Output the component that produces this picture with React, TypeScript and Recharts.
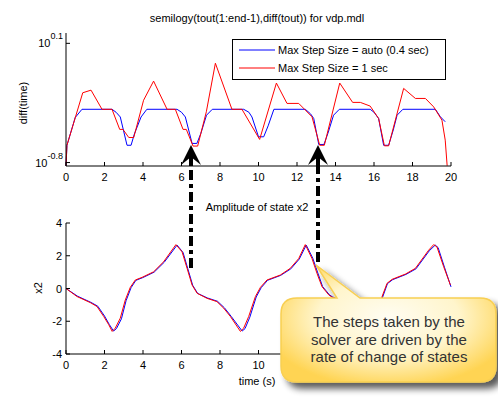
import { LineChart, Line, XAxis, YAxis } from "recharts";

// step sizes, semilogy plot (time, diff(time))
const autoStepTime = [0, 0.05, 0.48, 0.83, 2.39, 2.6, 2.82, 3.17, 3.38, 3.55, 3.9, 4.2, 5.77, 6.0, 6.2, 6.55, 6.8, 7.0, 7.3, 7.6, 9.23, 9.5, 9.66, 10.0, 10.27, 10.5, 10.8, 12.43, 12.7, 12.87, 13.13, 13.4, 13.6, 13.9, 14.2, 15.8, 16.0, 16.24, 16.5, 16.76, 17.0, 17.2, 17.5, 19.19, 19.45, 19.7];
const autoStepSize = [0.15, 0.214, 0.347, 0.4, 0.4, 0.38, 0.35, 0.214, 0.214, 0.26, 0.35, 0.4, 0.4, 0.38, 0.35, 0.221, 0.221, 0.262, 0.361, 0.4, 0.4, 0.38, 0.35, 0.248, 0.248, 0.3, 0.4, 0.4, 0.37, 0.341, 0.217, 0.217, 0.262, 0.361, 0.4, 0.4, 0.38, 0.341, 0.214, 0.214, 0.279, 0.361, 0.4, 0.4, 0.351, 0.322];

const oneSecTime = [0, 0.05, 0.87, 1.3, 1.87, 2.39, 2.79, 2.96, 3.26, 3.52, 4.03, 4.55, 5.25, 5.68, 6.08, 6.25, 6.6, 6.84, 7.29, 7.76, 8.62, 9.14, 10.06, 10.93, 11.48, 12.09, 12.78, 13.18, 13.42, 14.22, 14.89, 15.29, 15.8, 16.24, 16.54, 16.76, 17.54, 18.15, 18.67, 19.1, 19.53, 19.7, 19.8];
const oneSecSize = [0.15, 0.214, 0.533, 0.558, 0.4, 0.4, 0.282, 0.282, 0.245, 0.245, 0.468, 0.653, 0.4, 0.4, 0.282, 0.282, 0.211, 0.211, 0.383, 0.891, 0.4, 0.4, 0.237, 0.631, 0.443, 0.443, 0.351, 0.214, 0.214, 0.631, 0.451, 0.451, 0.423, 0.341, 0.212, 0.212, 0.575, 0.483, 0.483, 0.417, 0.331, 0.234, 0.15];

// state x2
const x2AutoTime = [0, 0.6, 1.3, 1.65, 2.0, 2.25, 2.47, 2.62, 2.88, 3.12, 3.38, 3.63, 3.98, 4.58, 5.1, 5.77, 6.08, 6.33, 6.58, 6.84, 7.35, 7.87, 8.23, 8.58, 9.15, 9.3, 9.55, 9.88, 10.14, 10.47, 11.15, 11.68, 12.12, 12.48, 12.82, 13.08, 13.33, 13.68, 13.85, 14.42, 14.93, 15.3, 15.77, 15.96, 16.2, 16.45, 16.7, 16.97, 17.66, 18.18, 18.87, 19.18, 19.33, 19.66, 20];
const x2AutoVal = [0, -0.47, -0.85, -1.08, -1.68, -2.2, -2.6, -2.45, -1.85, -0.75, 0.05, 0.5, 0.66, 1.0, 1.6, 2.65, 2.2, 1.2, 0.2, -0.3, -0.58, -0.78, -1.18, -1.7, -2.6, -2.45, -1.75, -0.52, 0.05, 0.5, 0.8, 1.2, 1.8, 2.65, 1.85, 0.95, 0.12, -0.38, -0.52, -0.78, -1.18, -1.7, -2.6, -2.45, -1.75, -0.52, 0.3, 0.54, 0.86, 1.2, 2.3, 2.65, 2.5, 1.3, 0.1];

const x2OneTime = [0, 0.57, 1.26, 1.61, 1.96, 2.22, 2.4, 2.56, 2.82, 3.08, 3.34, 3.6, 3.95, 4.55, 5.07, 5.71, 6.03, 6.29, 6.55, 6.81, 7.32, 7.84, 8.19, 8.54, 9.06, 9.23, 9.49, 9.84, 10.1, 10.44, 11.13, 11.65, 12.09, 12.43, 12.78, 13.04, 13.3, 13.65, 13.82, 14.4, 14.9, 15.25, 15.7, 15.9, 16.15, 16.42, 16.68, 16.94, 17.63, 18.15, 18.84, 19.1, 19.27, 19.62, 19.97];
const x2OneVal = [0, -0.49, -0.86, -1.1, -1.71, -2.21, -2.62, -2.42, -1.81, -0.7, 0.07, 0.52, 0.68, 1.02, 1.63, 2.68, 2.24, 1.23, 0.21, -0.29, -0.6, -0.8, -1.2, -1.71, -2.62, -2.42, -1.71, -0.49, 0.07, 0.52, 0.82, 1.23, 1.83, 2.68, 1.83, 0.92, 0.11, -0.39, -0.53, -0.8, -1.2, -1.71, -2.62, -2.42, -1.71, -0.49, 0.32, 0.56, 0.88, 1.23, 2.34, 2.68, 2.54, 1.33, 0.21];

const timeTicks = [0, 2, 4, 6, 8, 10, 12, 14, 16, 18, 20];
const logTicks = [Math.pow(10, -0.8), Math.pow(10, 0.1)];
const logTickExp = ["-0.8", "0.1"];
const x2Ticks = [-4, -2, 0, 2, 4];

const legendNames = ["Max Step Size = auto (0.4 sec)", "Max Step Size = 1 sec"];
const calloutLines = ["The steps taken by the", "solver are driven by the", "rate of change of states"];

const FONT = "'Liberation Sans', Arial, sans-serif";
const BLUE = "#0000ff";
const RED = "#ff0000";
const BUBBLE_LEFT = 281;

const zip = (t: number[], v: number[]) => t.map((x, i) => ({ t: x, v: v[i] }));

// labels that the callout hides are left out
const makeBottomTick = (maxX: number) => (p: any) => (
  <g>
    <line x1={p.x} x2={p.x} y1={p.y} y2={p.y - 4} stroke="#000" />
    {p.x < maxX && (
      <text x={p.x} y={p.y + 15} textAnchor="middle" fontSize={11} fontFamily={FONT} fill="#000">
        {p.payload.value}
      </text>
    )}
  </g>
);

const TopTick = (p: any) => <line x1={p.x} x2={p.x} y1={p.y} y2={p.y + 4} stroke="#000" />;
const RightTick = (p: any) => <line x1={p.x} x2={p.x - 4} y1={p.y} y2={p.y} stroke="#000" />;

const LeftTick = (p: any) => (
  <g>
    <line x1={p.x} x2={p.x + 4} y1={p.y} y2={p.y} stroke="#000" />
    <text x={p.x - 4} y={p.y + 4} textAnchor="end" fontSize={11} fontFamily={FONT} fill="#000">
      {p.payload.value}
    </text>
  </g>
);

const LogTick = (p: any) => {
  const exp = logTickExp[logTicks.indexOf(p.payload.value)] ?? "";
  return (
    <g>
      <line x1={p.x} x2={p.x + 4} y1={p.y} y2={p.y} stroke="#000" />
      <text x={p.x - 3} y={p.y + 4} textAnchor="end" fontSize={11} fontFamily={FONT} fill="#000">
        <tspan>10</tspan>
        <tspan dy={-8} fontSize={9}>{exp}</tspan>
      </text>
    </g>
  );
};

function Arrow({ x, y1, y2 }: { x: number; y1: number; y2: number }) {
  return (
    <g>
      <line x1={x} x2={x} y1={y1} y2={y2 + 8} stroke="#000" strokeWidth={4} strokeDasharray="10 4 4 4" />
      <polygon points={`${x},${y2} ${x + 10},${y2 + 20} ${x},${y2 + 12} ${x - 10},${y2 + 20}`} fill="#000" />
      <line x1={x} x2={x} y1={y2 + 4} y2={y2 + 20} stroke="#000" strokeWidth={4} />
    </g>
  );
}

export default function App() {
  const blueTop = zip(autoStepTime, autoStepSize);
  const redTop = zip(oneSecTime, oneSecSize);
  const blueBot = zip(x2AutoTime, x2AutoVal);
  const redBot = zip(x2OneTime, x2OneVal);
  const logDomain = [Math.pow(10, -0.826), Math.pow(10, 0.178)];
  const TopAxisTick = makeBottomTick(1000);
  const BotAxisTick = makeBottomTick(BUBBLE_LEFT - 6);

  // callout bubble with tail
  const bx1 = BUBBLE_LEFT, bx2 = 496, by1 = 298, by2 = 382, r = 16;
  const bubble = `M ${bx1 + r} ${by1} L 337 ${by1} L 316 265 L 360 ${by1} L ${bx2 - r} ${by1} Q ${bx2} ${by1} ${bx2} ${by1 + r} L ${bx2} ${by2 - r} Q ${bx2} ${by2} ${bx2 - r} ${by2} L ${bx1 + r} ${by2} Q ${bx1} ${by2} ${bx1} ${by2 - r} L ${bx1} ${by1 + r} Q ${bx1} ${by1} ${bx1 + r} ${by1} Z`;

  return (
    <div style={{ position: "absolute", left: 0, top: 0, width: 498, height: 399, background: "#fff", overflow: "hidden" }}>
      <div style={{ position: "absolute", left: 0, top: 0 }}>
        <LineChart width={498} height={200} margin={{ top: 33, right: 47, left: 0, bottom: 0 }}>
          <XAxis xAxisId="b" type="number" dataKey="t" domain={[0, 20]} ticks={timeTicks} interval={0} height={34}
            tickSize={0} tickMargin={0} tickLine={false} axisLine={{ stroke: "#000" }} tick={TopAxisTick} />
          <XAxis xAxisId="t" orientation="top" type="number" dataKey="t" domain={[0, 20]} ticks={timeTicks} interval={0} height={0}
            tickSize={0} tickMargin={0} tickLine={false} axisLine={{ stroke: "#000" }} tick={TopTick} />
          <YAxis yAxisId="l" type="number" scale="log" domain={logDomain} allowDataOverflow ticks={logTicks} interval={0} width={66}
            tickSize={0} tickMargin={0} tickLine={false} axisLine={{ stroke: "#000" }} tick={LogTick} />
          <YAxis yAxisId="r" orientation="right" type="number" scale="log" domain={logDomain} allowDataOverflow ticks={logTicks} interval={0} width={0}
            tickSize={0} tickMargin={0} tickLine={false} axisLine={{ stroke: "#000" }} tick={RightTick} />
          <Line xAxisId="b" yAxisId="l" data={blueTop} dataKey="v" name={legendNames[0]} type="linear" stroke={BLUE} strokeWidth={1} dot={false} isAnimationActive={false} />
          <Line xAxisId="t" yAxisId="r" data={redTop} dataKey="v" name={legendNames[1]} type="linear" stroke={RED} strokeWidth={1} dot={false} isAnimationActive={false} />
        </LineChart>
      </div>
      <div style={{ position: "absolute", left: 0, top: 190 }}>
        <LineChart width={498} height={199} margin={{ top: 33, right: 47, left: 0, bottom: 0 }}>
          <XAxis xAxisId="b" type="number" dataKey="t" domain={[0, 20]} ticks={timeTicks} interval={0} height={35}
            tickSize={0} tickMargin={0} tickLine={false} axisLine={{ stroke: "#000" }} tick={BotAxisTick} />
          <XAxis xAxisId="t" orientation="top" type="number" dataKey="t" domain={[0, 20]} ticks={timeTicks} interval={0} height={0}
            tickSize={0} tickMargin={0} tickLine={false} axisLine={{ stroke: "#000" }} tick={TopTick} />
          <YAxis yAxisId="l" type="number" domain={[-4, 4]} allowDataOverflow ticks={x2Ticks} interval={0} width={66}
            tickSize={0} tickMargin={0} tickLine={false} axisLine={{ stroke: "#000" }} tick={LeftTick} />
          <YAxis yAxisId="r" orientation="right" type="number" domain={[-4, 4]} allowDataOverflow ticks={x2Ticks} interval={0} width={0}
            tickSize={0} tickMargin={0} tickLine={false} axisLine={{ stroke: "#000" }} tick={RightTick} />
          <Line xAxisId="b" yAxisId="l" data={blueBot} dataKey="v" type="linear" stroke={BLUE} strokeWidth={1} dot={false} isAnimationActive={false} />
          <Line xAxisId="t" yAxisId="r" data={redBot} dataKey="v" type="linear" stroke={RED} strokeWidth={1} dot={false} isAnimationActive={false} />
        </LineChart>
      </div>
      <svg width={498} height={399} style={{ position: "absolute", left: 0, top: 0, pointerEvents: "none" }}>
        <defs>
          <radialGradient id="bub" cx="50%" cy="45%" r="60%">
            <stop offset="0%" stopColor="#fffdf2" />
            <stop offset="55%" stopColor="#fff5cc" />
            <stop offset="100%" stopColor="#ffd452" />
          </radialGradient>
          <filter id="sh" x="-20%" y="-20%" width="150%" height="150%">
            <feGaussianBlur in="SourceAlpha" stdDeviation="3.5" />
            <feOffset dx="6" dy="6" result="b" />
            <feComponentTransfer><feFuncA type="linear" slope="0.65" /></feComponentTransfer>
            <feMerge><feMergeNode /><feMergeNode in="SourceGraphic" /></feMerge>
          </filter>
        </defs>
        <g fontFamily={FONT} fill="#000">
          <text x={257} y={22} fontSize={11} textAnchor="middle">semilogy(tout(1:end-1),diff(tout)) for vdp.mdl</text>
          <text x={257} y={211} fontSize={11} textAnchor="middle">Amplitude of state x2</text>
          <text x={257} y={385} fontSize={11} textAnchor="middle">time (s)</text>
          <text transform="translate(27,103) rotate(-90)" fontSize={11} textAnchor="middle">diff(time)</text>
          <text transform="translate(42,288) rotate(-90)" fontSize={11} textAnchor="middle">x2</text>
        </g>
        <g>
          <rect x={232.5} y={39.5} width={213} height={40} fill="#fff" stroke="#000" />
          <line x1={239} x2={275} y1={50} y2={50} stroke={BLUE} />
          <line x1={239} x2={275} y1={68} y2={68} stroke={RED} />
          <text x={278} y={54} fontSize={11} fontFamily={FONT}>{legendNames[0]}</text>
          <text x={278} y={72} fontSize={11} fontFamily={FONT}>{legendNames[1]}</text>
        </g>
        <Arrow x={191} y1={268} y2={145} />
        <Arrow x={318} y1={262} y2={145} />
        <path d={bubble} fill="url(#bub)" stroke="#f8cf52" strokeWidth={1.5} filter="url(#sh)" />
        {calloutLines.map((s, i) => (
          <text key={i} x={389} y={327 + i * 17.5} fontSize={15} fontFamily={FONT} fill="#333" textAnchor="middle">{s}</text>
        ))}
      </svg>
    </div>
  );
}
